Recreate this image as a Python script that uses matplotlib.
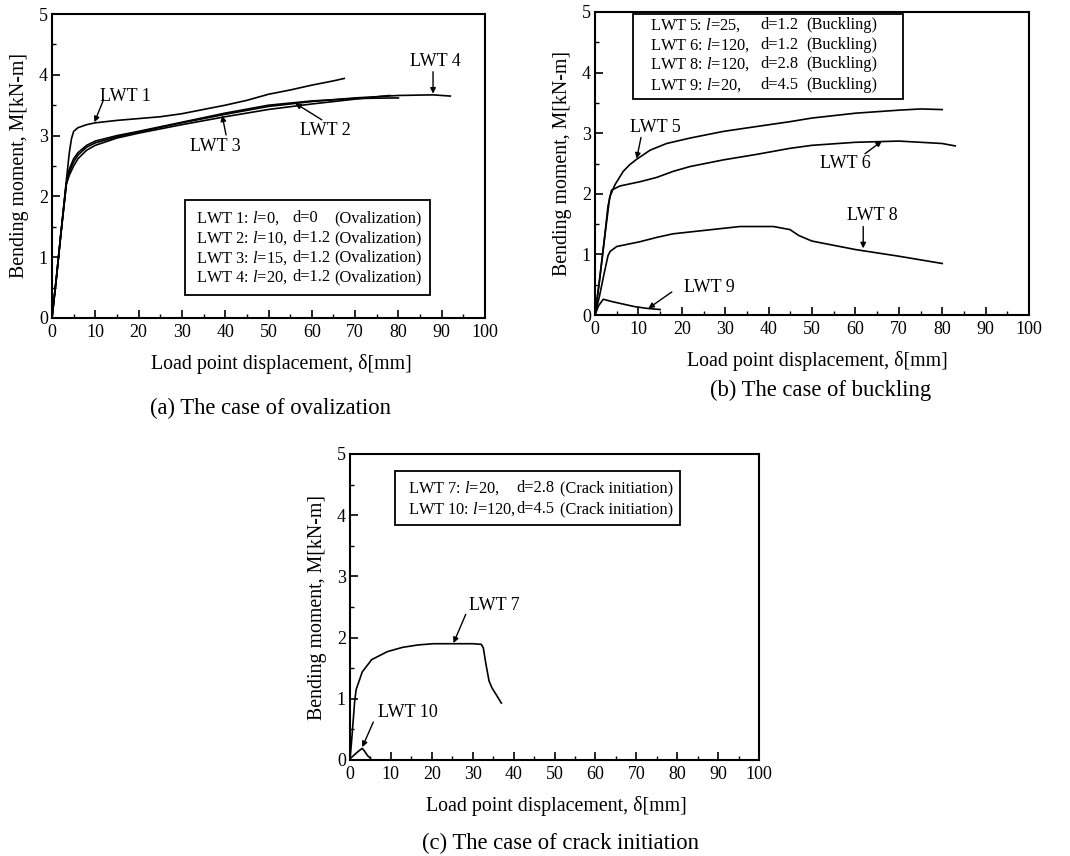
import matplotlib
matplotlib.use("Agg")
import matplotlib.pyplot as plt
from matplotlib.ticker import MultipleLocator

plt.rcParams['font.family'] = ['Liberation Serif', 'DejaVu Serif']
plt.rcParams['mathtext.fontset'] = 'custom'
plt.rcParams['mathtext.it'] = 'Liberation Serif:italic'
plt.rcParams['mathtext.rm'] = 'Liberation Serif'

# ---------------- data (a) ovalization ----------------
lwt1_d = [0, 1, 2, 3, 4.0, 4.5, 5, 6, 8, 10, 15, 20, 25, 30, 35, 40, 45, 50, 55, 60, 65, 67.5]
lwt1_m = [0, 0.65, 1.35, 2.05, 2.72, 2.95, 3.07, 3.13, 3.18, 3.21, 3.25, 3.28, 3.31, 3.36, 3.43, 3.50, 3.58, 3.68, 3.75, 3.83, 3.90, 3.94]

lwt2_d = [0, 1, 2, 3.3, 4, 5, 6, 8, 10, 15, 20, 30, 40, 50, 60, 70, 80]
lwt2_m = [0, 0.65, 1.35, 2.2, 2.45, 2.62, 2.72, 2.84, 2.91, 3.00, 3.07, 3.22, 3.37, 3.50, 3.57, 3.61, 3.62]

lwt3_d = [0, 1, 2, 3.3, 4, 5, 6, 8, 10, 15, 20, 30, 40, 50, 60, 70, 78]
lwt3_m = [0, 0.65, 1.35, 2.2, 2.35, 2.50, 2.62, 2.76, 2.84, 2.96, 3.04, 3.18, 3.31, 3.43, 3.52, 3.60, 3.66]

lwt4_d = [0, 1, 2, 3.3, 4, 5, 6, 8, 10, 15, 20, 30, 40, 50, 60, 70, 80, 88, 92]
lwt4_m = [0, 0.65, 1.35, 2.2, 2.40, 2.57, 2.68, 2.81, 2.88, 2.98, 3.06, 3.21, 3.35, 3.48, 3.56, 3.62, 3.66, 3.67, 3.65]

# ---------------- data (b) buckling ----------------
lwt5_d = [0, 1, 2, 3.4, 4.6, 6.5, 8, 9.6, 12.7, 16.5, 21.9, 29.6, 37.2, 44.9, 50, 60, 70, 75, 80]
lwt5_m = [0, 0.55, 1.15, 1.95, 2.15, 2.37, 2.48, 2.57, 2.72, 2.83, 2.92, 3.03, 3.11, 3.19, 3.25, 3.33, 3.38, 3.40, 3.39]

lwt6_d = [0, 1, 2, 3.0, 3.8, 5.8, 10.4, 14.2, 18, 21.9, 29.6, 37.2, 44.9, 50, 60, 70, 80, 83]
lwt6_m = [0, 0.55, 1.15, 1.80, 2.06, 2.13, 2.20, 2.27, 2.37, 2.45, 2.56, 2.65, 2.75, 2.80, 2.85, 2.87, 2.83, 2.79]

lwt8_d = [0, 1, 2, 3.0, 3.5, 5, 10.4, 14.2, 18, 25.7, 33.4, 41.1, 44.9, 47, 50, 55, 60, 70, 80]
lwt8_m = [0, 0.30, 0.65, 0.98, 1.05, 1.13, 1.21, 1.28, 1.34, 1.40, 1.46, 1.46, 1.41, 1.31, 1.22, 1.15, 1.08, 0.97, 0.85]

lwt9_d = [0, 0.8, 1.9, 4, 6.5, 9, 11.9, 15]
lwt9_m = [0, 0.15, 0.26, 0.22, 0.18, 0.14, 0.11, 0.09]

# ---------------- data (c) crack initiation ----------------
lwt7_d = [0, 0.5, 1.13, 1.5, 3, 5.3, 9.1, 12.8, 16.6, 20.4, 25, 30, 32.1, 32.6, 33.2, 34, 34.7, 36, 37]
lwt7_m = [0, 0.4, 0.95, 1.15, 1.44, 1.64, 1.77, 1.84, 1.88, 1.90, 1.90, 1.90, 1.89, 1.83, 1.58, 1.29, 1.18, 1.04, 0.93]

lwt10_d = [0, 1, 2, 3, 3.6, 4.3, 5]
lwt10_m = [0.02, 0.08, 0.14, 0.19, 0.14, 0.07, 0.03]

x_ticks = [0, 10, 20, 30, 40, 50, 60, 70, 80, 90, 100]
y_ticks = [0, 1, 2, 3, 4, 5]
xlabel = "Load point displacement, δ[mm]"
ylabel = "Bending moment, M[kN-m]"

legend_a = [("LWT 1: $\\mathit{l}$=0,", "d=0", "(Ovalization)"),
            ("LWT 2: $\\mathit{l}$=10,", "d=1.2", "(Ovalization)"),
            ("LWT 3: $\\mathit{l}$=15,", "d=1.2", "(Ovalization)"),
            ("LWT 4: $\\mathit{l}$=20,", "d=1.2", "(Ovalization)")]
legend_b = [("LWT 5: $\\mathit{l}$=25,", "d=1.2", "(Buckling)"),
            ("LWT 6: $\\mathit{l}$=120,", "d=1.2", "(Buckling)"),
            ("LWT 8: $\\mathit{l}$=120,", "d=2.8", "(Buckling)"),
            ("LWT 9: $\\mathit{l}$=20,", "d=4.5", "(Buckling)")]
legend_c = [("LWT 7: $\\mathit{l}$=20,", "d=2.8", "(Crack initiation)"),
            ("LWT 10: $\\mathit{l}$=120,", "d=4.5", "(Crack initiation)")]

captions = ["(a) The case of ovalization", "(b) The case of buckling",
            "(c) The case of crack initiation"]

W, H = 1070, 856
fig = plt.figure(figsize=(W / 100, H / 100), dpi=100)


def px_axes(l, t, r, b):
    return fig.add_axes([l / W, 1 - b / H, (r - l) / W, (b - t) / H])


def style(ax, xlab_x):
    ax.set_xlim(0, 100)
    ax.set_ylim(0, 5)
    ax.set_xticks(x_ticks)
    ax.set_yticks(y_ticks)
    ax.xaxis.set_minor_locator(MultipleLocator(5))
    ax.yaxis.set_minor_locator(MultipleLocator(0.5))
    ax.tick_params(which='major', direction='in', length=6, width=1.2, labelsize=13, pad=4)
    ax.tick_params(which='minor', direction='in', length=3, width=1.0)
    ax.tick_params(axis='y', pad=3)
    for s in ax.spines.values():
        s.set_linewidth(1.5)
    ax.set_xlabel(xlabel, fontsize=14.3, labelpad=10)
    ax.xaxis.label.set_x(xlab_x)
    ax.set_ylabel(ylabel, fontsize=14.3, labelpad=7)


def legend_box(ax, rows, x0, x1, y0, y1, cols, ys, fs=11.8):
    ax.add_patch(plt.Rectangle((x0, y0), x1 - x0, y1 - y0, fill=False,
                               lw=1.3, ec='black', zorder=3))
    for row, y in zip(rows, ys):
        for txt, cx in zip(row, cols):
            ax.text(cx, y, txt, fontsize=fs, va='center', ha='left', zorder=4)


def label(ax, text, tx, ty, tail, tip):
    ax.text(tx, ty, text, fontsize=13, ha='center', va='center')
    ax.annotate('', xy=tip, xytext=tail,
                arrowprops=dict(arrowstyle='-|>', lw=1.0, color='black',
                                mutation_scale=8, shrinkA=0, shrinkB=0))


lw = 1.2
# (a)
axa = px_axes(52, 14, 485, 318)
style(axa, 0.529)
for d, m in [(lwt1_d, lwt1_m), (lwt2_d, lwt2_m), (lwt3_d, lwt3_m), (lwt4_d, lwt4_m)]:
    axa.plot(d, m, color='black', lw=lw)
legend_box(axa, legend_a, 30.8, 87.3, 0.38, 1.94, [33.3, 55.4, 65.2], [1.64, 1.31, 0.99, 0.67])
label(axa, "LWT 1", 17.0, 3.64, (11.9, 3.59), (9.8, 3.22))
label(axa, "LWT 4", 88.6, 4.22, (88.0, 4.05), (88.0, 3.69))
label(axa, "LWT 2", 63.2, 3.08, (62.3, 3.26), (56.2, 3.53))
label(axa, "LWT 3", 37.8, 2.82, (40.2, 3.01), (39.3, 3.33))

# (b)
axb = px_axes(595, 12, 1029, 315)
style(axb, 0.512)
for d, m in [(lwt5_d, lwt5_m), (lwt6_d, lwt6_m), (lwt8_d, lwt8_m), (lwt9_d, lwt9_m)]:
    axb.plot(d, m, color='black', lw=lw)
legend_box(axb, legend_b, 8.8, 71.0, 3.56, 4.97, [12.7, 38.0, 48.6], [4.78, 4.46, 4.14, 3.80])
label(axb, "LWT 5", 13.8, 3.10, (10.6, 2.93), (9.6, 2.58))
label(axb, "LWT 6", 57.6, 2.50, (62.2, 2.66), (66.1, 2.87))
label(axb, "LWT 8", 63.9, 1.65, (61.8, 1.46), (61.8, 1.10))
label(axb, "LWT 9", 26.3, 0.46, (17.7, 0.38), (12.3, 0.11))

# (c)
axc = px_axes(350, 454, 759, 760)
style(axc, 0.504)
for d, m in [(lwt7_d, lwt7_m), (lwt10_d, lwt10_m)]:
    axc.plot(d, m, color='black', lw=lw)
legend_box(axc, legend_c, 11.0, 80.7, 3.84, 4.73, [14.3, 40.7, 51.3], [4.44, 4.10])
label(axc, "LWT 7", 35.4, 2.52, (28.3, 2.38), (25.3, 1.91))
label(axc, "LWT 10", 14.2, 0.77, (5.7, 0.62), (3.0, 0.21))

# captions
fig.text(271 / W, 1 - 408 / H, captions[0], fontsize=16.3, ha='center', va='center')
fig.text(821 / W, 1 - 390 / H, captions[1], fontsize=16.3, ha='center', va='center')
fig.text(560 / W, 1 - 843 / H, captions[2], fontsize=16.3, ha='center', va='center')

fig.savefig("out.png", dpi=100, facecolor='white')
